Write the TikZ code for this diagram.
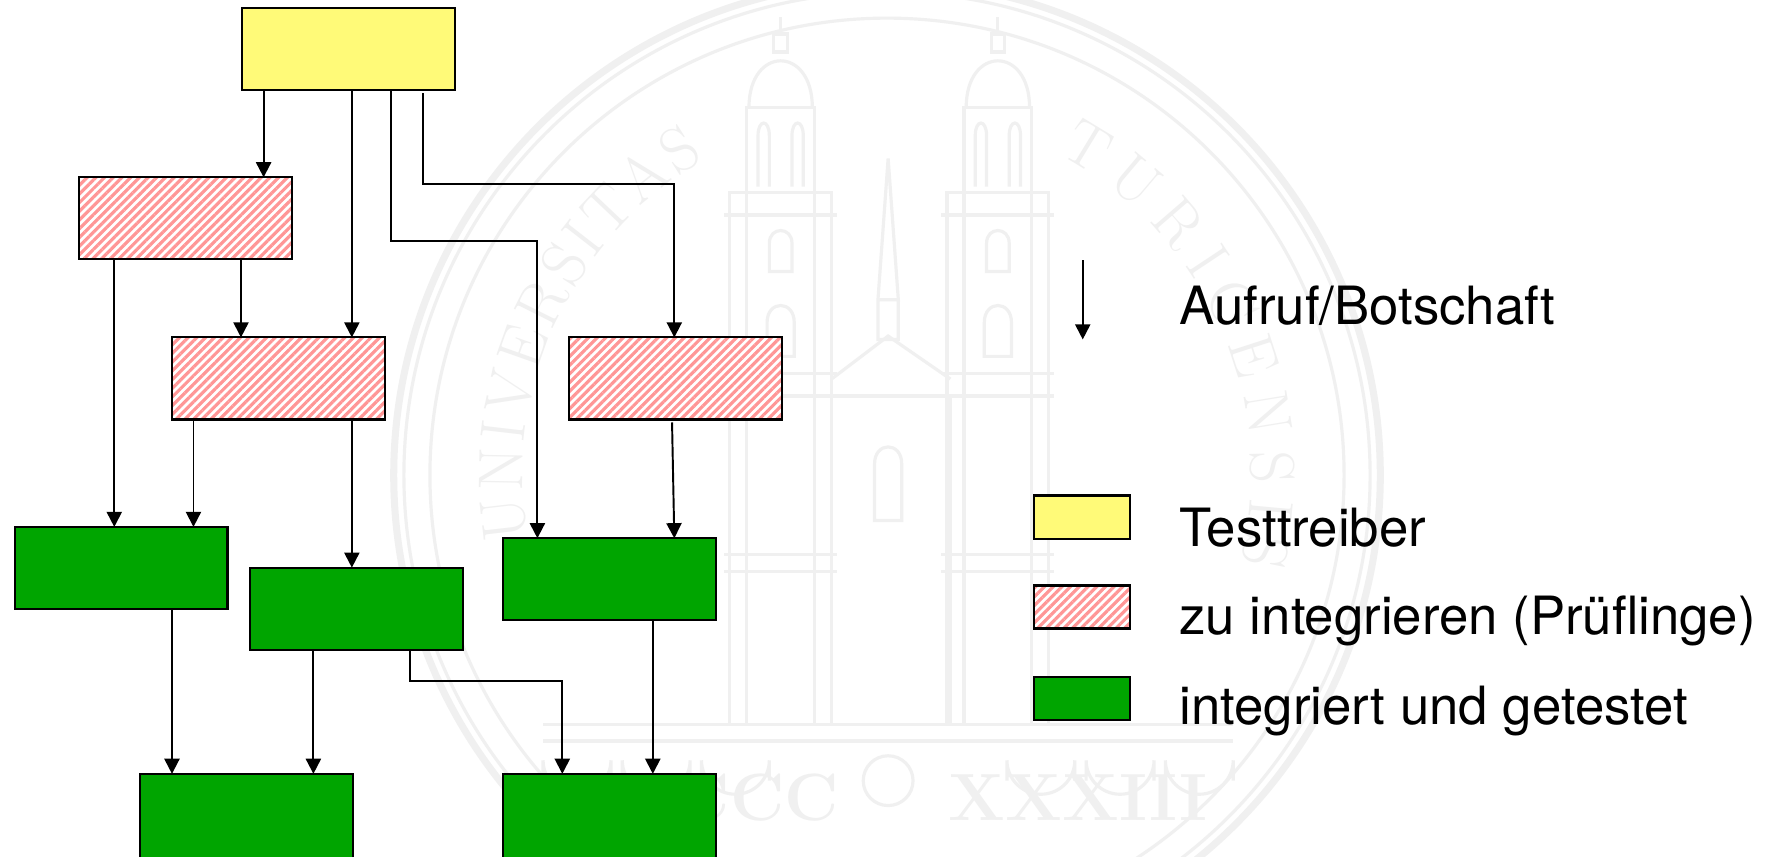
\documentclass[tikz,border=0pt]{standalone}
\usepackage{fontspec}
\newfontfamily\helv{TeX Gyre Heros}
\usetikzlibrary{arrows.meta,patterns.meta,decorations.text}
\definecolor{tyellow}{RGB}{255,250,120}
\definecolor{tgreen}{RGB}{0,165,0}
\definecolor{tpink}{RGB}{255,150,150}
\definecolor{wm}{RGB}{240,240,240}
\begin{document}
\begin{tikzpicture}[x=0.011314cm,y=-0.011314cm,
  box/.style={draw=black,line width=0.6pt,inner sep=0pt,outer sep=0pt,minimum width=2.127cm,minimum height=0.82cm},
  drv/.style={box,fill=tyellow},
  hat/.style={box,preaction={fill=white},pattern={Lines[angle=45,distance=1.75pt,line width=0.9pt]},pattern color=tpink},
  done/.style={box,fill=tgreen},
  tall/.style={minimum height=1.131cm},
  leg/.style={minimum width=0.962cm,minimum height=0.43cm},
  call/.style={line width=0.55pt,-{Triangle[length=4.3pt,width=4.3pt]}},
  lab/.style={anchor=base west,inner sep=0pt,font=\helv\fontsize{15}{18}\selectfont},
  wmline/.style={draw=wm,line width=0.9pt},
  wmtext/.style={text=wm,inner sep=0pt,font=\bfseries\fontsize{19}{19}\selectfont},
]
\clip (0,0) rectangle (1568,757);
\fill[white] (0,0) rectangle (1568,757);

% ---------- watermark (seal) ----------
\begin{scope}[shift={(784,420)},yscale=-1]
  \draw[wm,line width=2pt] (0,0) circle[radius=436];
  \draw[wm,line width=0.9pt] (0,0) circle[radius=427];
  \draw[wm,line width=0.9pt] (0,0) circle[radius=404];
  \path[decorate,decoration={text along path,text align=fit to path,
      text={|\fontsize{18}{18}\selectfont\color{wm}|UNIVERSITAS}}]
      (190:322) arc[start angle=190,end angle=120,radius=322];
  \path[decorate,decoration={text along path,text align=fit to path,
      text={|\fontsize{18}{18}\selectfont\color{wm}|TURICENSIS}}]
      (62:322) arc[start angle=62,end angle=-14,radius=322];
\end{scope}
% towers
\foreach \dx in {0,192}{
  \begin{scope}[xshift=\dx*0.011314cm]
    \draw[wmline] (645,170) rectangle (735,640);
    \draw[wmline] (660,170) -- (660,640) (720,170) -- (720,640);
    \draw[wmline] (640,190) -- (740,190) (640,330) -- (740,330) (640,350) -- (740,350)
                  (640,490) -- (740,490) (640,505) -- (740,505);
    \draw[wmline] (660,95) rectangle (720,170);
    \draw[wmline] (662,95) .. controls (662,40) and (718,40) .. (718,95);
    \draw[wmline] (684,46) rectangle (696,30) (690,30) -- (690,15);
    \draw[wmline] (670,165) -- (670,120) .. controls (670,105) and (680,105) .. (680,120) -- (680,165);
    \draw[wmline] (700,165) -- (700,120) .. controls (700,105) and (710,105) .. (710,120) -- (710,165);
    \draw[wmline] (680,240) -- (680,215) .. controls (680,200) and (700,200) .. (700,215) -- (700,240) -- cycle;
    \draw[wmline] (678,315) -- (678,285) .. controls (678,265) and (702,265) .. (702,285) -- (702,315) -- cycle;
  \end{scope}}
\draw[wmline] (785,140) -- (776,265) -- (794,265) -- cycle (776,265) rectangle (794,300);
\draw[wmline] (735,335) -- (785,297) -- (840,335);
\draw[wmline] (735,350) rectangle (840,640);
\draw[wmline] (773,460) -- (773,410) .. controls (773,390) and (797,390) .. (797,410) -- (797,460) -- cycle;
\draw[wmline] (480,640) -- (1090,640) (480,655) -- (1090,655);
\foreach \ax in {510,580,650,920,990,1060}{
  \draw[wmline] (\ax-30,690) -- (\ax-30,672) arc[start angle=180,end angle=0,radius=30] -- (\ax+30,690);}
\draw[wmline] (785,690) circle[radius=22];
\node[wmtext,anchor=east] (wmL) at (742,705) {MDCCC};
\node[wmtext,anchor=west] (wmR) at (838,705) {XXXIII};

% ---------- boxes ----------
\node[drv] (T) at (308,43.5) {};
\node[hat] (A) at (164,193) {};
\node[hat] (B) at (246,334.5) {};
\node[hat] (C) at (597,334.5) {};
\node[done] (D) at (107,502) {};
\node[done] (E) at (315,538) {};
\node[done] (F) at (539,512) {};
\node[done,tall] (G) at (218,734) {};
\node[done,tall] (H) at (539,734) {};

% column / bend coordinates
\coordinate (c233) at (233,0);
\coordinate (c311) at (311,0);
\coordinate (k1) at (346,213);
\coordinate (k2) at (475,213);
\coordinate (k3) at (374,163);
\coordinate (k4) at (596,163);
\coordinate (c101) at (101,0);
\coordinate (c213) at (213,0);
\coordinate (c171) at (171,0);
\coordinate (c594) at (594,0);
\coordinate (c597) at (596,0);
\coordinate (c152) at (152,0);
\coordinate (c277) at (277,0);
\coordinate (k5) at (362,602);
\coordinate (k6) at (497,602);
\coordinate (c577) at (577,0);

% ---------- connectors ----------
\draw[call] (T.south -| c233) -- (A.north -| c233);
\draw[call] (T.south -| c311) -- (B.north -| c311);
\draw[call] (T.south -| k1) |- (k2) -- (F.north -| k2);
\draw[call] ([yshift=-0.03cm]T.south -| k3) |- (k4) -- (C.north -| k4);
\draw[call] (A.south -| c101) -- (D.north -| c101);
\draw[call] (A.south -| c213) -- (B.north -| c213);
\draw[call] (B.south -| c171) -- (D.north -| c171);
\draw[call] (B.south -| c311) -- (E.north -| c311);
\draw[call] ([yshift=-0.03cm]C.south -| c594) -- (F.north -| c597);
\draw[call] (D.south -| c152) -- (G.north -| c152);
\draw[call] (E.south -| c277) -- (G.north -| c277);
\draw[call] (E.south -| k5) |- (k6) -- (H.north -| k6);
\draw[call] (F.south -| c577) -- (H.north -| c577);

% ---------- legend ----------
\coordinate (la) at (957,230);
\coordinate (lb) at (957,300);
\draw[call] (la) -- (lb);
\node[lab] (l0) at (1042,287) {Aufruf/Botschaft};
\node[drv,leg] (ly) at (956.5,457) {};
\node[hat,leg] (lh) at (956.5,536.5) {};
\node[done,leg] (lg) at (956.5,617) {};
\node[lab] (l1) at (1042,483) {Testtreiber};
\node[lab] (l2) at (1042,561) {zu integrieren (Prüflinge)};
\node[lab] (l3) at (1042,640) {integriert und getestet};
\end{tikzpicture}
\end{document}
